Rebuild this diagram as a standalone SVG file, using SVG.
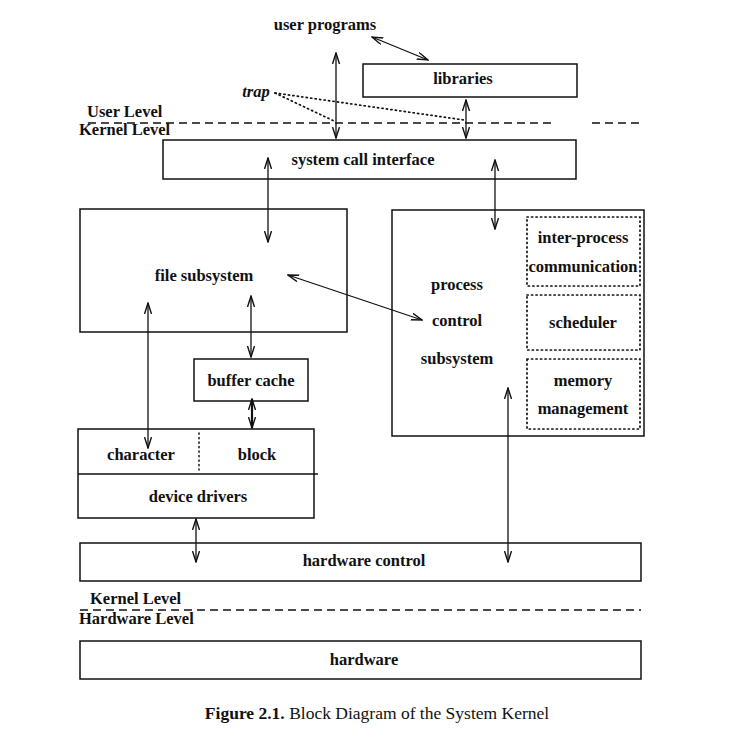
<svg xmlns="http://www.w3.org/2000/svg" width="739" height="749" viewBox="0 0 739 749">
<defs>
<style>
text{font-family:"Liberation Serif","Times New Roman",serif;font-size:16.5px;font-weight:bold;fill:#111;text-anchor:middle}
.lbl{text-anchor:start}
.box{fill:#fff;stroke:#111;stroke-width:1.5}
.dot{fill:none;stroke:#111;stroke-width:1.7;stroke-dasharray:1.2,3.3;stroke-linecap:round}
.dash{fill:none;stroke:#111;stroke-width:1.5;stroke-dasharray:8,5}
.arr{fill:none;stroke:#111;stroke-width:1.3;marker-end:url(#ah);marker-start:url(#ah)}
</style>
<marker id="ah" markerUnits="userSpaceOnUse" markerWidth="12" markerHeight="10" refX="11" refY="4" orient="auto-start-reverse">
<path d="M0,0.5 L11,4 L0,7.5" fill="none" stroke="#111" stroke-width="1.4"/>
</marker>
</defs>
<rect width="739" height="749" fill="#fff"/>

<g id="levels">
<line class="dash" x1="88" y1="123" x2="555" y2="123"/>
<line class="dash" x1="592" y1="123" x2="640" y2="123"/>
<text class="lbl" x="87" y="117">User Level</text>
<text class="lbl" x="79" y="135">Kernel Level</text>
<line class="dash" x1="80" y1="610" x2="641" y2="610"/>
<text class="lbl" x="90" y="604">Kernel Level</text>
<text class="lbl" x="79" y="624">Hardware Level</text>
</g>

<g id="user-programs"><text x="325" y="30">user programs</text></g>
<g id="libraries"><rect class="box" x="363" y="64" width="214" height="33"/><text x="463" y="84">libraries</text></g>
<g id="trap"><text x="256" y="97" style="font-style:italic">trap</text></g>
<g id="syscall"><rect class="box" x="163" y="140" width="413" height="39"/><text x="363" y="165">system call interface</text></g>
<g id="file-subsystem"><rect class="box" x="80" y="209" width="267" height="123"/><text x="204" y="281">file subsystem</text></g>
<g id="process-control">
<rect class="box" x="392" y="210" width="252" height="226"/>
<text x="457" y="290">process</text>
<text x="457" y="326">control</text>
<text x="457" y="364">subsystem</text>
</g>
<g id="ipc"><rect class="dot" x="527" y="217" width="113" height="69"/><text x="583" y="243">inter-process</text><text x="583" y="272">communication</text></g>
<g id="scheduler"><rect class="dot" x="527" y="295" width="113" height="55"/><text x="583" y="328">scheduler</text></g>
<g id="memory"><rect class="dot" x="527" y="359" width="113" height="70"/><text x="583" y="386">memory</text><text x="583" y="414">management</text></g>
<g id="buffer-cache"><rect class="box" x="194" y="359" width="114" height="42"/><text x="251" y="386">buffer cache</text></g>
<g id="device-drivers">
<rect class="box" x="78" y="429" width="236" height="89"/>
<line x1="78" y1="474" x2="318" y2="474" stroke="#111" stroke-width="1.5"/>
<line class="dot" x1="199" y1="433" x2="199" y2="470" style="stroke-width:1.5"/>
<text x="141" y="460">character</text>
<text x="257" y="460">block</text>
<text x="198" y="502">device drivers</text>
</g>
<g id="hardware-control"><rect class="box" x="80" y="543" width="561" height="38"/><text x="364" y="566">hardware control</text></g>
<g id="hardware"><rect class="box" x="80" y="641" width="561" height="38"/><text x="364" y="665">hardware</text></g>

<g id="connectors">
<line class="arr" x1="372" y1="37" x2="428" y2="60"/>
<line class="arr" x1="336" y1="53" x2="336" y2="138"/>
<line class="arr" x1="466" y1="100" x2="466" y2="138"/>
<line class="dot" x1="275" y1="93" x2="334" y2="121"/>
<line class="dot" x1="275" y1="93" x2="464" y2="120"/>
<line class="arr" x1="268" y1="158" x2="268" y2="242"/>
<line class="arr" x1="495" y1="160" x2="495" y2="229"/>
<line class="arr" x1="288" y1="275" x2="422" y2="320"/>
<line class="arr" x1="148" y1="303" x2="148" y2="448"/>
<line class="arr" x1="251" y1="296" x2="251" y2="357"/>
<line class="arr" x1="252" y1="399" x2="252" y2="428" style="stroke-width:2.2"/>
<line class="arr" x1="196" y1="519" x2="196" y2="562"/>
<line class="arr" x1="508" y1="388" x2="508" y2="562"/>
</g>

<g id="caption">
<text x="377" y="719" style="font-size:17.5px"><tspan font-weight="bold">Figure 2.1.</tspan><tspan font-weight="normal">  Block Diagram of the System Kernel</tspan></text>
</g>
</svg>
